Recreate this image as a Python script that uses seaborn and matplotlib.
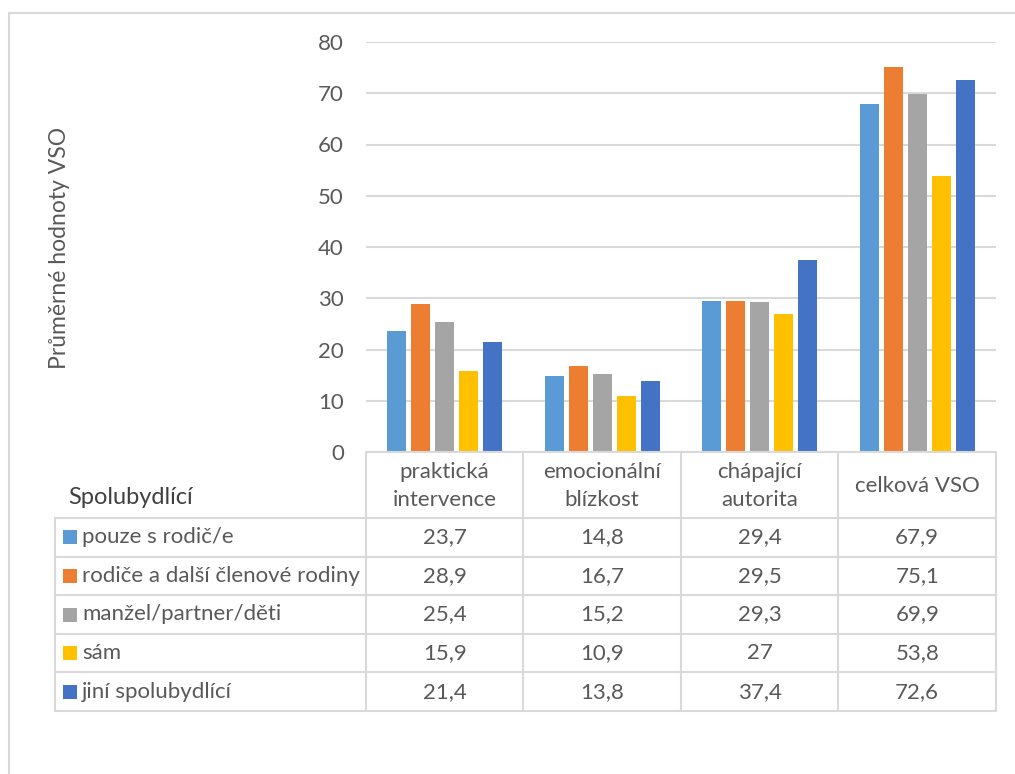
import matplotlib
matplotlib.use("Agg")
import matplotlib.pyplot as plt
import seaborn as sns
import pandas as pd

# Categories (x axis) and household groups (series)
categories = ["praktická\nintervence", "emocionální\nblízkost", "chápající\nautorita", "celková VSO"]
groups = ["pouze s rodič/e", "rodiče a další členové rodiny", "manžel/partner/děti", "sám", "jiní spolubydlící"]
colors = ["#5B9BD5", "#ED7D31", "#A5A5A5", "#FFC000", "#4472C4"]

values = {
    "pouze s rodič/e": [23.7, 14.8, 29.4, 67.9],
    "rodiče a další členové rodiny": [28.9, 16.7, 29.5, 75.1],
    "manžel/partner/děti": [25.4, 15.2, 29.3, 69.9],
    "sám": [15.9, 10.9, 27.0, 53.8],
    "jiní spolubydlící": [21.4, 13.8, 37.4, 72.6],
}
y_ticks = [0, 10, 20, 30, 40, 50, 60, 70, 80]
y_label = "Průměrné hodnoty VSO"
table_title = "Spolubydlící"

rows = []
for g in groups:
    for c, v in zip(categories, values[g]):
        rows.append({"kategorie": c, "skupina": g, "hodnota": v})
df = pd.DataFrame(rows)

sns.set_theme(style="white")
plt.rcParams["font.family"] = ["Lato", "DejaVu Sans"]
text_color = "#595959"
line_color = "#D9D9D9"
fs = 16

W, H = 1015, 774
fig = plt.figure(figsize=(W / 100, H / 100), dpi=100)
fig.patch.set_facecolor("white")

# Plot area in pixel layout
px_left, px_right, px_top, px_bottom = 366, 996, 42, 452
ax = fig.add_axes([px_left / W, 1 - px_bottom / H, (px_right - px_left) / W, (px_bottom - px_top) / H])

sns.barplot(data=df, x="kategorie", y="hodnota", hue="skupina", hue_order=groups,
            order=categories, palette=colors, width=0.762, gap=0.2, legend=False,
            saturation=1, ax=ax, linewidth=0)

ax.set_xlim(-0.5, len(categories) - 0.5)
ax.set_ylim(0, 80)
ax.set_yticks(y_ticks)
ax.set_yticklabels([str(t) for t in y_ticks])
ax.set_xticks([])
ax.set_xlabel("")
ax.set_ylabel("")
ax.yaxis.grid(True, color=line_color, linewidth=1.5)
ax.set_axisbelow(True)
for s in ax.spines.values():
    s.set_visible(False)
ax.tick_params(axis="y", length=0, pad=16, labelsize=fs, labelcolor=text_color)

# Overlay in pixel coordinates for the data table and frame
ov = fig.add_axes([0, 0, 1, 1], zorder=-1)
ov.set_xlim(0, W)
ov.set_ylim(H, 0)
ov.axis("off")

# Chart frame (left and top edges)
ov.plot([9, 9, W], [H, 13, 13], color=line_color, lw=1.5, solid_capstyle="butt")

fig.text(60 / W, 1 - 248 / H, y_label, rotation=90, ha="center", va="center",
         fontsize=16.5, color=text_color)

# Data table
tbl_left = 55
n = len(categories)
col_w = (px_right - px_left) / n
col_edges = [px_left + i * col_w for i in range(n + 1)]
header_bottom = 518
row_h = 38.6
row_edges = [header_bottom + i * row_h for i in range(len(groups) + 1)]

ov2 = fig.add_axes([0, 0, 1, 1], zorder=5)
ov2.set_xlim(0, W)
ov2.set_ylim(H, 0)
ov2.axis("off")
lw = 1.5
ov2.plot([px_left, px_right], [px_bottom, px_bottom], color=line_color, lw=lw)
for x in col_edges:
    ov2.plot([x, x], [px_bottom, row_edges[-1]], color=line_color, lw=lw)
ov2.plot([tbl_left, tbl_left], [header_bottom, row_edges[-1]], color=line_color, lw=lw)
for y in row_edges:
    ov2.plot([tbl_left, px_right], [y, y], color=line_color, lw=lw)

for i, c in enumerate(categories):
    cx = (col_edges[i] + col_edges[i + 1]) / 2
    ov2.text(cx, (px_bottom + header_bottom) / 2 + 1, c, ha="center", va="center",
             fontsize=fs, color=text_color, linespacing=1.45)

ov2.text(68, 498, table_title, ha="left", va="center", fontsize=17, color="#404040")

for r, g in enumerate(groups):
    cy = (row_edges[r] + row_edges[r + 1]) / 2
    ov2.add_patch(plt.Rectangle((63, cy - 7), 14, 14, color=colors[r], lw=0))
    ov2.text(82, cy, g, ha="left", va="center", fontsize=fs, color=text_color)
    for i, v in enumerate(values[g]):
        cx = (col_edges[i] + col_edges[i + 1]) / 2
        ov2.text(cx, cy, f"{v:g}".replace(".", ","), ha="center", va="center",
                 fontsize=fs, color=text_color)

fig.savefig("out.png", dpi=100, facecolor="white")
